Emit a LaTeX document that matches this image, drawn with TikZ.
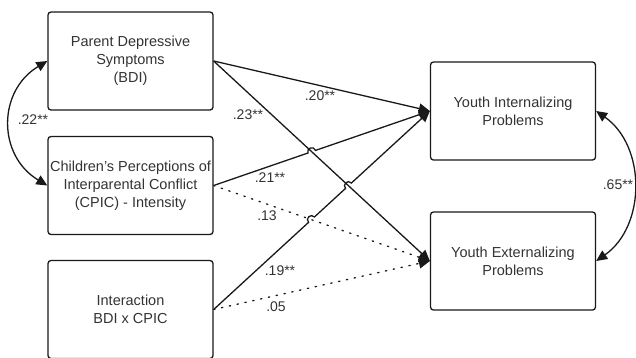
\documentclass[tikz,border=0pt]{standalone}
\usepackage{fontspec}
\setmainfont{Liberation Sans}
\usetikzlibrary{arrows.meta,calc,intersections}
\begin{document}
\begin{tikzpicture}[x=1pt,y=-1pt,
  box/.style={draw=black!90, line width=1.3pt, rounded corners=3pt, minimum width=165pt, minimum height=98pt, inner sep=0pt, align=center, font=\fontsize{14.5}{17.8}\selectfont, text=black!80},
  arr/.style={line width=1.3pt, draw=black!90, -{Triangle[length=11pt,width=10pt]}},
  dotarr/.style={arr, dash pattern=on 1.4pt off 6.6pt, line cap=round},
  lab/.style={font=\fontsize{14}{16}\selectfont, text=black!80, inner sep=1pt},
  dbl/.style={line width=1.3pt, draw=black!90, {Triangle[length=11pt,width=10pt]}-{Triangle[length=11pt,width=10pt]}},
  hop/.style={bend left=90, looseness=1.7}
]
\useasboundingbox (0,0) rectangle (636,357);
\clip (0,0) rectangle (636,357);

\node[box] (p) at (130.5,61) {Parent Depressive\\Symptoms\\(BDI)};
\node[box] (c) at (130.5,185.5) {Children's Perceptions of\\Interparental Conflict\\(CPIC) - Intensity};
\node[box] (x) at (130.5,309.5) {Interaction\\BDI x CPIC};
\node[box] (int) at (513,111) {Youth Internalizing\\Problems};
\node[box] (ext) at (513,261) {Youth Externalizing\\Problems};

\path[name path=PE] (p.east) -- (ext.west);
\path[name path=CI] (c.east) -- (int.west);
\path[name path=II] (x.east) -- (int.west);
\path[name path=CE] (c.east) -- (ext.west);
\path[name intersections={of=PE and CI, by=h1}];
\path[name intersections={of=PE and II, by=h2}];
\path[name intersections={of=CE and II, by=h3}];

\draw[arr] (p.east) -- (int.west);
\draw[arr] (p.east) -- (ext.west);
\draw[arr] (c.east) -- ($(h1)!4pt!(c.east)$) to[hop] ($(h1)!-4pt!(c.east)$) -- (int.west);
\draw[dotarr] (c.east) -- (ext.west);
\draw[arr] (x.east) -- ($(h3)!4pt!(x.east)$) to[hop] ($(h3)!-4pt!(x.east)$)
  -- ($(h2)!4pt!(x.east)$) to[hop] ($(h2)!-4pt!(x.east)$) -- (int.west);
\draw[dotarr] (x.east) -- (ext.west);

\draw[dbl] (p.west) .. controls +(-50,30) and +(-50,-30) .. (c.west);
\draw[dbl] (int.east) .. controls +(50,35) and +(50,-35) .. (ext.east);

\node[lab] (l22) at (33,120) {.22**};
\node[lab] (l20) at (320,96) {.20**};
\node[lab] (l23) at (248,115) {.23**};
\node[lab] (l21) at (270,178) {.21**};
\node[lab] (l13) at (267,216) {.13};
\node[lab] (l19) at (280,271) {.19**};
\node[lab] (l05) at (276,307) {.05};
\node[lab] (l65) at (618,185) {.65**};
\end{tikzpicture}
\end{document}
